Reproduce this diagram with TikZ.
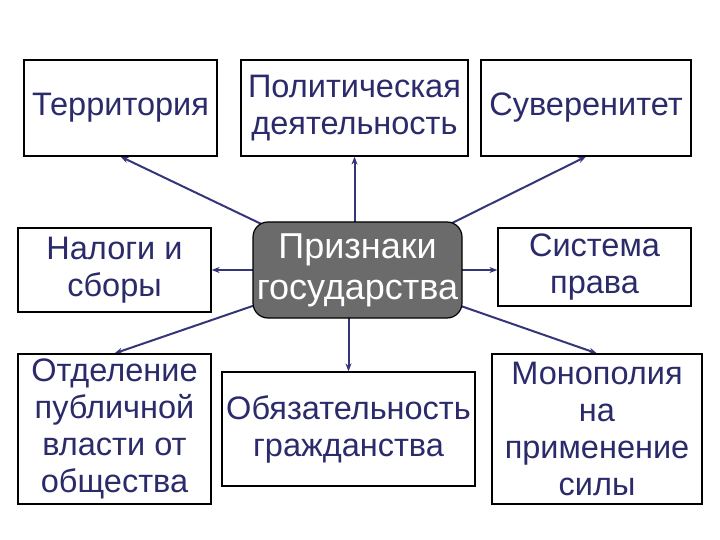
\documentclass[tikz,border=0pt]{standalone}
\usepackage{fontspec}
\setmainfont{Liberation Sans}
\usetikzlibrary{backgrounds,arrows.meta}
\definecolor{txt}{HTML}{2B2B6B}
\definecolor{arr}{HTML}{35357A}
\definecolor{core}{HTML}{6B6B6B}
\begin{document}
\begin{tikzpicture}[x=1pt,y=-1pt,
  box/.style={draw=black,line width=1.2pt,fill=white,text=txt,align=center,inner sep=0pt,
    font=\fontsize{32.5}{37}\selectfont},
  corebox/.style={draw=black,line width=1.2pt,fill=core,text=white,align=center,inner sep=0pt,
    rounded corners=15pt,font=\fontsize{36}{41}\selectfont},
  link/.style={draw=arr,line width=2pt,-{Stealth[length=8pt,width=6pt]}}]
\useasboundingbox (0,0) rectangle (720,540);
\node[box,minimum width=193pt,minimum height=96pt] (T) at (120.5,108) {Территория};
\node[box,minimum width=227pt,minimum height=96pt] (Pol) at (354.5,108) {Политическая\\деятельность};
\node[box,minimum width=210pt,minimum height=96pt] (S) at (586,108) {Суверенитет};
\node[box,minimum width=193pt,minimum height=84pt] (N) at (114.5,270) {Налоги и\\сборы};
\node[corebox,minimum width=209pt,minimum height=96pt] (P) at (357.5,270) {Признаки\\государства};
\node[box,minimum width=193pt,minimum height=78pt] (Sys) at (594.5,267) {Система\\права};
\node[box,minimum width=193pt,minimum height=150pt] (O) at (114.5,429) {Отделение\\публичной\\власти от\\общества};
\node[box,minimum width=253pt,minimum height=114pt] (Ob) at (348.5,429) {Обязательность\\гражданства};
\node[box,minimum width=210pt,minimum height=150pt] (M) at (597,429) {Монополия\\на\\применение\\силы};
\begin{scope}[on background layer]
\draw[link] (P.center) -- (T.south);
\draw[link] (P.center -| Pol.south) -- (Pol.south);
\draw[link] (P.center) -- (S.south);
\draw[link] (P.center) -- (P.center -| N.east);
\draw[link] (P.center) -- (P.center -| Sys.west);
\draw[link] (P.center) -- (O.north);
\draw[link] (P.center -| Ob.north) -- (Ob.north);
\draw[link] (P.center) -- (M.north);
\end{scope}
\end{tikzpicture}
\end{document}
